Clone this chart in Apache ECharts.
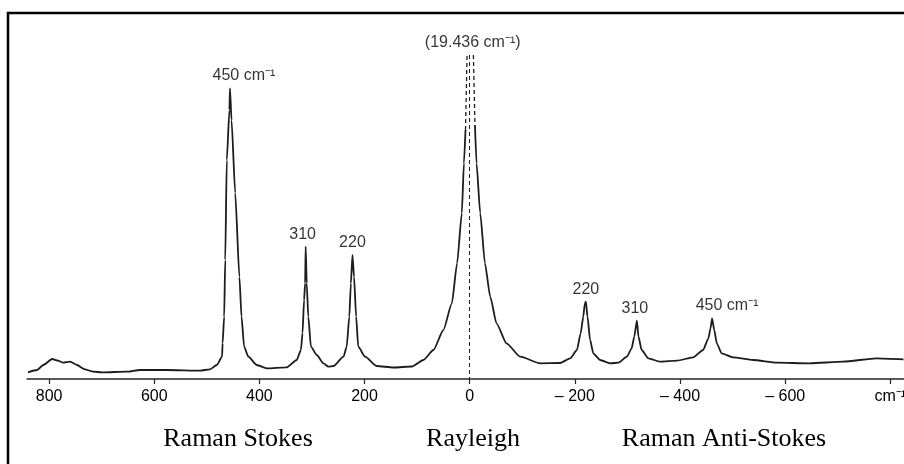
<!DOCTYPE html>
<html>
<head>
<meta charset="utf-8">
<title>Raman spectrum</title>
<script src="https://cdn.jsdelivr.net/npm/echarts@6/dist/echarts.min.js"></script>
<style>
  html, body { margin: 0; padding: 0; background: #fff; }
  #chart { width: 904px; height: 464px; }
</style>
</head>
<body>
<div id="chart"></div>
<script>
// Raman shift (cm-1), Stokes side positive, anti-Stokes negative
const shiftCm = [
  840, 823, 811, 794, 783, 773, 760, 747, 732, 716,
  699, 652, 627, 576, 513, 494, 481, 471, 470, 467,
  465, 462, 457, 456, 453, 446, 438, 434, 429, 421,
  405, 386, 348, 329, 321, 318, 315, 313, 312, 310,
  307, 302, 291, 278, 269, 259, 240, 234, 229, 226,
  223, 220, 216, 212, 199, 177, 145, 110, 88, 69,
  50, 34, 24, 15, 11, 8, 0, -10, -13, -20,
  -29, -39, -51, -70, -96, -134, -172, -191, -204, -211,
  -216, -219, -221, -224, -229, -235, -248, -267, -283, -299,
  -308, -313, -318, -321, -327, -340, -362, -394, -425, -444,
  -454, -458, -461, -465, -470, -479, -501, -539, -584, -647,
  -710, -774, -825
];
// intensity (arb. units); null = Rayleigh line off scale
const intensity = [
  6.7, 9, 14, 20, 18.3, 16.3, 17.3, 14, 9.7, 7.3,
  6.7, 7.3, 9, 9, 8.3, 9.7, 14, 22.3, 36, 62.3,
  119, 219, 269, 290.7, 259, 186, 102, 62.3, 32.3, 22.3,
  14, 10.7, 11.7, 19, 29, 46, 79, 95.7, 132.3, 95.7,
  62.3, 32.3, 24, 15.7, 12.3, 13, 22.3, 32.3, 62.3, 95.7,
  124, 102.3, 62.3, 32.3, 22.3, 13, 11.5, 12.5, 19, 29,
  49, 75.7, 115.7, 165.7, 215.7, 249, null, 254, 215.7, 165.7,
  115.7, 82.3, 55.7, 35.7, 22.3, 15.7, 16, 20.7, 29, 45.7,
  62.3, 75.7, 77.3, 62.3, 39, 25.7, 19, 15.7, 16.3, 22.3,
  30.7, 42.3, 58.3, 42.3, 29, 20.7, 17.3, 18.3, 21.7, 29,
  40.7, 50.7, 60.7, 49, 35.7, 25.7, 21.7, 19, 16.3, 15.7,
  17.3, 20.7, 19.7
];

// dashed continuation of the Rayleigh line above the scale
const capShift = [8, 5, 0, -7, -10];
const capValue = [249, 324, null, 324, 254];

const peakShift = [456, 312, 223, 0, -221, -318, -461];
const peakTop = [290.7, 132.3, 124, 324, 77.3, 58.3, 60.7];
const peakText = ['450 cm⁻¹', '310', '220', '(19.436 cm⁻¹)', '220', '310', '450 cm⁻¹'];

const tickValues = [800, 600, 400, 200, 0, -200, -400, -600, -800];
const tickText = ['800', '600', '400', '200', '0', '\u2013 200', '\u2013 400', '\u2013 600', 'cm⁻¹'];

const regionText = ['Raman Stokes', 'Rayleigh', 'Raman Anti-Stokes'];

const labelNudge = [[14, 0], [-3, 0], [0, 0], [3, 0], [0, 0], [-2, 0], [15, 0]];
const regionX = [238, 473, 724];

const chart = echarts.init(document.getElementById('chart'));
const ink = '#1c1c1c';
const sans = '"Liberation Sans", Arial, sans-serif';

chart.setOption({
  animation: false,
  grid: { left: 27, right: 0, top: 39, bottom: 85, containLabel: false, outerBoundsMode: 'none' },
  xAxis: {
    type: 'value',
    inverse: true,
    min: -826,
    max: 842,
    splitLine: { show: false },
    axisLine: { onZero: false, lineStyle: { color: '#262626', width: 1.5 } },
    axisTick: { customValues: tickValues, length: 5, lineStyle: { color: '#262626', width: 1.2 } },
    axisLabel: {
      customValues: tickValues,
      formatter: v => tickText[tickValues.indexOf(v)],
      margin: 10,
      fontSize: 16,
      fontFamily: sans,
      color: '#000'
    }
  },
  yAxis: { type: 'value', min: 0, max: 340, show: false },
  series: [
    {
      type: 'line',
      name: 'spectrum',
      data: shiftCm.map((x, i) => [x, intensity[i]]),
      showSymbol: false,
      smooth: 0.2,
      smoothMonotone: 'x',
      lineStyle: { color: ink, width: 1.8 }
    },
    {
      type: 'line',
      name: 'rayleigh',
      data: capShift.map((x, i) => [x, capValue[i]]),
      showSymbol: false,
      lineStyle: { color: ink, width: 1.3, type: [4, 3] },
      markLine: {
        silent: true,
        symbol: 'none',
        label: { show: false },
        lineStyle: { color: ink, width: 1, type: [4, 3] },
        data: [[{ coord: [0, 324] }, { coord: [0, 0] }]]
      }
    },
    {
      type: 'scatter',
      name: 'labels',
      symbolSize: 1,
      itemStyle: { color: 'rgba(0,0,0,0)' },
      data: peakShift.map((x, i) => ({
        value: [x, peakTop[i]],
        label: { offset: labelNudge[i] }
      })),
      label: {
        show: true,
        position: 'top',
        distance: 4,
        formatter: p => peakText[p.dataIndex],
        fontSize: 16,
        fontFamily: sans,
        color: '#000'
      }
    }
  ],
  graphic: [
    {
      type: 'rect',
      shape: { x: 8, y: 13, width: 1000, height: 600 },
      style: { fill: 'none', stroke: '#000', lineWidth: 2.5 }
    }
  ].concat(regionText.map((t, i) => ({
    type: 'text',
    x: regionX[i],
    y: 439,
    style: {
      text: t,
      align: 'center',
      verticalAlign: 'middle',
      fontSize: 26,
      fontFamily: '"Liberation Serif", "Times New Roman", serif',
      fill: '#000'
    }
  })))
});
</script>
</body>
</html>
